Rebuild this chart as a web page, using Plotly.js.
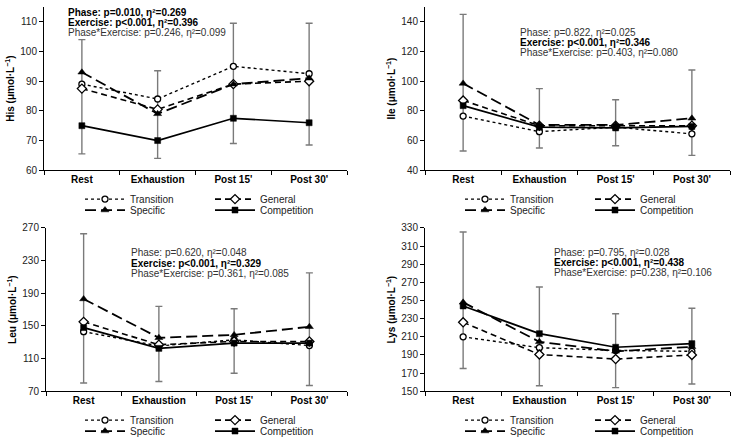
<!DOCTYPE html>
<html>
<head>
<meta charset="utf-8">
<script src="https://cdn.plot.ly/plotly-3.0.1.min.js"></script>
<style>html,body{margin:0;padding:0;background:#fff}#chart{width:735px;height:446px}</style>
</head>
<body>
<div id="chart"></div>
<script>
// ---------- data ----------
const categories = ['Rest', 'Exhaustion', "Post 15'", "Post 30'"];
const seriesNames = ['Transition', 'General', 'Specific', 'Competition'];

// His
const hisTransition  = [89, 84, 95, 92.5];
const hisGeneral     = [87.5, 80.5, 89, 90];
const hisSpecific    = [93, 79, 89, 91];
const hisCompetition = [75, 70, 77.5, 76];
const hisErrHigh     = [104, 93.5, 109.5, 109.5];
const hisErrLow      = [65.5, 64, 69, 68.5];

// Ile
const ileTransition  = [76.5, 66, 69, 64.5];
const ileGeneral     = [87, 70, 70, 70];
const ileSpecific    = [98.5, 70.5, 70.5, 75];
const ileCompetition = [83.5, 69, 68.5, 69.5];
const ileErrHigh     = [145, 95, 87.5, 107.5];
const ileErrLow      = [53, 55, 56.5, 50];

// Leu
const leuTransition  = [143, 125.5, 133, 126];
const leuGeneral     = [155, 127, 131, 131];
const leuSpecific    = [183, 135.5, 139, 149];
const leuCompetition = [148, 122.5, 129, 129];
const leuErrHigh     = [263, 174, 171, 215];
const leuErrLow      = [80, 82, 92, 77];

// Lys
const lysTransition  = [210, 198, 195, 194];
const lysGeneral     = [226, 190.5, 185.5, 190];
const lysSpecific    = [248, 204.5, 194, 199];
const lysCompetition = [244, 213.5, 198.5, 202.5];
const lysErrHigh     = [325.5, 265, 235.5, 241.5];
const lysErrLow      = [175, 156, 154, 158];

const panelTitles = ['His', 'Ile', 'Leu', 'Lys'];
const statsText = [
  ['<b>Phase: p=0.010, η²=0.269</b>', '<b>Exercise: p<0.001, η²=0.396</b>', 'Phase*Exercise: p=0.246, η²=0.099'],
  ['Phase: p=0.822, η²=0.025', '<b>Exercise: p<0.001, η²=0.346</b>', 'Phase*Exercise: p=0.403, η²=0.080'],
  ['Phase: p=0.620, η²=0.048', '<b>Exercise: p<0.001, η²=0.329</b>', 'Phase*Exercise: p=0.361, η²=0.085'],
  ['Phase: p=0.795, η²=0.028', '<b>Exercise: p<0.001, η²=0.438</b>', 'Phase*Exercise: p=0.238, η²=0.106']
];

const panelSeries = [
  [hisTransition, hisGeneral, hisSpecific, hisCompetition],
  [ileTransition, ileGeneral, ileSpecific, ileCompetition],
  [leuTransition, leuGeneral, leuSpecific, leuCompetition],
  [lysTransition, lysGeneral, lysSpecific, lysCompetition]
];
const panelErrHigh = [hisErrHigh, ileErrHigh, leuErrHigh, lysErrHigh];
const panelErrLow  = [hisErrLow, ileErrLow, leuErrLow, lysErrLow];

// ---------- styling ----------
const W = 735, H = 446;
const FONT = 'Liberation Sans, Arial, sans-serif';
const px = v => v / W;
const py = v => 1 - v / H;

const lineStyles = [
  {dash: 'dot', width: 1.4},
  {dash: '6px,4px', width: 1.6},
  {dash: '11px,5px', width: 1.8},
  {dash: 'solid', width: 1.7}
];
const markerStyles = [
  {symbol: 'circle', size: 6, color: '#fff', line: {color: '#000', width: 1.3}},
  {symbol: 'diamond', size: 7, color: '#fff', line: {color: '#000', width: 1.3}},
  {symbol: 'triangle-up', size: 7, color: '#000', line: {color: '#000', width: 0.5}},
  {symbol: 'square', size: 6, color: '#000', line: {color: '#000', width: 0.5}}
];

// panel geometry (px)
const panels = [
  {x0: 44, x1: 347, y0: 7, y1: 171, range: [60, 115], dtick: 10, tick0: 60, legX: 85, legY: [200, 211], annX: 66, annY: [12.3, 22.5, 33]},
  {x0: 425, x1: 730, y0: 7, y1: 171, range: [40, 150], dtick: 20, tick0: 40, legX: 465, legY: [200, 211], annX: 518, annY: [32.3, 42.5, 52.7]},
  {x0: 46, x1: 347, y0: 229, y1: 393, range: [70, 270], dtick: 40, tick0: 70, legX: 85, legY: [422, 433], annX: 129, annY: [254, 264.3, 275]},
  {x0: 425, x1: 730, y0: 229, y1: 393, range: [150, 330], dtick: 20, tick0: 150, legX: 465, legY: [422, 433], annX: 552, annY: [253.3, 263.5, 274]}
];

const traces = [];
const layout = {
  width: W, height: H,
  margin: {l: 0, r: 0, t: 0, b: 0},
  paper_bgcolor: '#fff', plot_bgcolor: '#fff',
  font: {family: FONT, size: 10, color: '#000'},
  annotations: [],
  showlegend: true
};

panels.forEach((p, i) => {
  const n = i === 0 ? '' : String(i + 1);
  const xa = 'x' + n, ya = 'y' + n;

  layout['xaxis' + n] = {
    domain: [px(p.x0), px(p.x1)], anchor: ya, type: 'category',
    range: [-0.5, 3.5], showline: true, linecolor: '#000', linewidth: 1,
    ticks: 'outside', tickson: 'boundaries', ticklen: 4, tickcolor: '#000', tickangle: 0,
    showgrid: false, zeroline: false, fixedrange: true,
    tickfont: {family: FONT, size: 10, color: '#000', weight: 'bold'}
  };
  layout['yaxis' + n] = {
    domain: [py(p.y1), py(p.y0)], anchor: xa, range: p.range,
    tick0: p.tick0, dtick: p.dtick, showline: true, linecolor: '#000', linewidth: 1,
    ticks: 'outside', ticklen: 4, tickcolor: '#000', showgrid: false, zeroline: false,
    fixedrange: true, tickfont: {family: FONT, size: 10, color: '#222'},
    title: {text: panelTitles[i] + ' (μmol·L<sup>−1</sup>)', font: {family: FONT, size: 10, color: '#000', weight: 'bold'}}
  };

  // error bars (drawn first, under the lines)
  const errLow = panelErrLow[i], errHigh = panelErrHigh[i];
  traces.push({
    type: 'scatter', mode: 'markers', x: categories, y: errLow,
    xaxis: xa, yaxis: ya, showlegend: false, hoverinfo: 'skip',
    marker: {size: 1, opacity: 0},
    error_y: {type: 'data', symmetric: false,
      array: errHigh.map((v, k) => v - errLow[k]), arrayminus: errLow.map(() => 0),
      color: '#7a7a7a', thickness: 1.4, width: 3.5}
  });

  panelSeries[i].forEach((vals, s) => {
    const idx = i * 2 + (s < 2 ? 1 : 2);
    const legId = idx === 1 ? 'legend' : 'legend' + idx;
    traces.push({
      type: 'scatter', mode: 'lines+markers', name: seriesNames[s],
      x: categories, y: vals, xaxis: xa, yaxis: ya, legend: legId,
      line: {color: '#000', width: lineStyles[s].width, dash: lineStyles[s].dash},
      marker: markerStyles[s], cliponaxis: false
    });
  });

  // two legend rows per panel
  [0, 1].forEach(r => {
    const idx = i * 2 + r + 1;
    const key = idx === 1 ? 'legend' : 'legend' + idx;
    layout[key] = {
      x: px(p.legX - 5), xanchor: 'left', y: py(p.legY[r]), yanchor: 'middle',
      orientation: 'h', entrywidth: 75, entrywidthmode: 'pixels', itemwidth: 40,
      bgcolor: 'rgba(0,0,0,0)', borderwidth: 0, tracegroupgap: 0,
      font: {family: FONT, size: 10, color: '#222'}, itemclick: false, itemdoubleclick: false
    };
  });

  statsText[i].forEach((t, k) => {
    layout.annotations.push({
      xref: 'paper', yref: 'paper', x: px(p.annX), y: py(p.annY[k]),
      xanchor: 'left', yanchor: 'middle', showarrow: false, text: t,
      font: {family: FONT, size: 10, color: k === 1 || (i === 0 && k === 0) ? '#000' : '#333'}
    });
  });
});

Plotly.newPlot('chart', traces, layout, {displayModeBar: false, staticPlot: true});
</script>
</body>
</html>
